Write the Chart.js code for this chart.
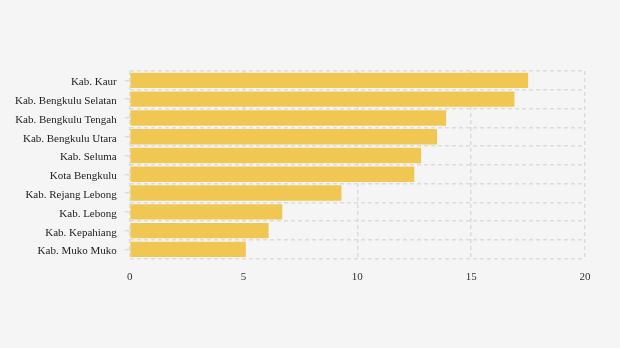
<!DOCTYPE html>
<html>
<head>
<meta charset="utf-8">
<script src="https://cdn.jsdelivr.net/npm/chart.js@4/dist/chart.umd.min.js"></script>
<style>
  html, body { margin: 0; padding: 0; background: #f5f5f5; }
  #wrap { width: 620px; height: 348px; position: relative; }
</style>
</head>
<body>
<div id="wrap"><canvas id="chart"></canvas></div>
<script>
// regencies / cities, top to bottom as drawn
const regions = [
    'Kab. Kaur',
    'Kab. Bengkulu Selatan',
    'Kab. Bengkulu Tengah',
    'Kab. Bengkulu Utara',
    'Kab. Seluma',
    'Kota Bengkulu',
    'Kab. Rejang Lebong',
    'Kab. Lebong',
    'Kab. Kepahiang',
    'Kab. Muko Muko',
];
const values = [17.5, 16.9, 13.9, 13.5, 12.8, 12.5, 9.3, 6.7, 6.1, 5.1];
const xTicks = [0, 5, 10, 15, 20];

const gridColor = '#dcdcdc';
const font = { family: '"Liberation Serif", "Times New Roman", serif', size: 11 };

// v4 takes the grid-line dash from border.dash, so the border itself stays hidden
new Chart(document.getElementById('chart'), {
    type: 'bar',
    data: {
        labels: regions,
        datasets: [
            {
                data: values,
                backgroundColor: '#f0c752',
                borderWidth: 0,
                barPercentage: 0.82,
                categoryPercentage: 1,
            },
        ],
    },
    options: {
        indexAxis: 'y',
        responsive: true,
        maintainAspectRatio: false,
        animation: false,
        layout: { padding: { top: 71, right: 35, bottom: 52, left: 7 } },
        plugins: {
            legend: { display: false },
            tooltip: { enabled: false },
        },
        scales: {
            x: {
                min: xTicks[0],
                max: xTicks[xTicks.length - 1],
                afterBuildTicks: (axis) => {
                    axis.ticks = xTicks.map((v) => ({ value: v }));
                },
                grid: { color: gridColor, lineWidth: 1.5, drawTicks: false },
                border: { display: false, dash: [4, 3] },
                ticks: { color: '#333', font, padding: 12 },
            },
            // short tick marks beside each label, between the dashed row lines
            y2: {
                type: 'category',
                labels: regions,
                position: 'left',
                weight: 0,
                offset: true,
                grid: { offset: false, drawOnChartArea: false, tickLength: 5, color: gridColor, lineWidth: 1.5 },
                border: { display: false },
                ticks: { display: false },
            },
            y: {
                weight: 1,
                grid: { offset: true, color: gridColor, lineWidth: 1.5, drawTicks: false },
                border: { display: false, dash: [4, 3] },
                ticks: { color: '#222', font, padding: 8, labelOffset: 2 },
            },
        },
    },
});
</script>
</body>
</html>
